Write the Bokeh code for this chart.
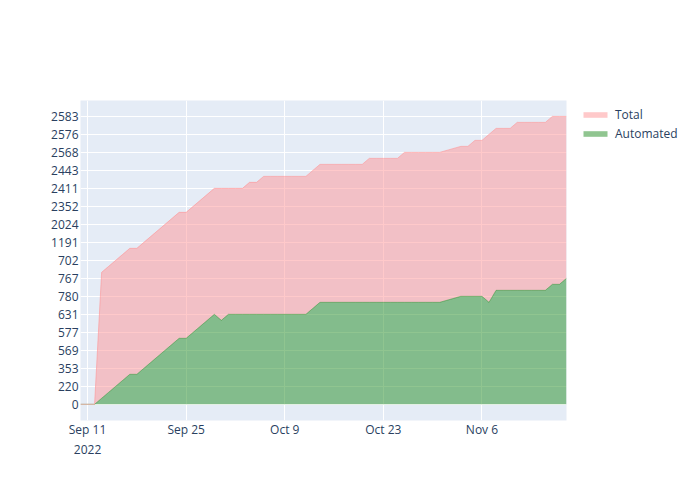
import pandas as pd
from bokeh.plotting import figure
from bokeh.models import ColumnDataSource, Range1d, FixedTicker, Legend, LegendItem
from bokeh.embed import file_html
from bokeh.resources import INLINE

# ---------------- data ----------------
start_date = "2022-09-10"
end_date = "2022-11-18"
missing_dates = ["2022-11-01", "2022-11-02"]

# Sep 10 .. Sep 30, Oct 1 .. Oct 31, Nov 3 .. Nov 18
automated = [
    0, 0, 0, 75, 148, 220, 265, 309, 309, 353, 425, 497, 569, 572, 575, 575,
    577, 595, 613, 631, 613,
    631, 631, 631, 631, 631, 631, 631, 631, 631, 631, 631, 631, 681,
    730, 730, 730, 730, 730, 730, 730, 730, 730, 730, 730, 730, 730, 730,
    730, 730, 730, 730,
    780, 780, 780, 780, 730, 756, 756, 756, 756, 756, 756, 756, 756,
    761, 761, 767,
]
total = [
    0, 0, 0, 640, 671, 702, 865, 1028, 1028, 1191, 1469, 1746, 2024, 2133,
    2243, 2243, 2352, 2372, 2391, 2411, 2411,
    2411, 2411, 2411, 2422, 2422, 2432, 2432, 2432, 2432, 2432, 2432, 2432,
    2443, 2485, 2485, 2485, 2485, 2485, 2485, 2485, 2526, 2526, 2526, 2526,
    2526, 2568, 2568, 2568, 2568, 2568, 2568,
    2571, 2571, 2573, 2573, 2576, 2578, 2578, 2578, 2580, 2580, 2580, 2580,
    2580, 2583, 2583, 2583,
]

series_names = ["Total", "Automated"]
x_tick_dates = ["2022-09-11", "2022-09-25", "2022-10-09", "2022-10-23", "2022-11-06"]
x_tick_labels = ["Sep 11\n2022", "Sep 25", "Oct 9", "Oct 23", "Nov 6"]

# ---------------- preparation ----------------
dates = [d for d in pd.date_range(start_date, end_date)
         if d.strftime("%Y-%m-%d") not in missing_dates]

# y values are categories (strings), ordered by first appearance
categories = []
for v in automated + total:
    s = str(v)
    if s not in categories:
        categories.append(s)
auto_idx = [categories.index(str(v)) for v in automated]
total_idx = [categories.index(str(v)) for v in total]

def ms(d):
    return int(pd.Timestamp(d).value // 10**6)

src = ColumnDataSource(dict(x=dates, auto=auto_idx, total=total_idx,
                            zero=[0] * len(dates)))

FONT = "Open Sans"
TXT = "#2a3f5f"
PINK = (255, 148, 150)
GREEN = "forestgreen"

p = figure(frame_width=486, frame_height=320, x_axis_type="datetime",
           output_backend="svg", toolbar_location=None,
           x_range=Range1d(ms(start_date), ms(end_date)),
           y_range=Range1d(-2.7, len(categories) - 1 + 2.65),
           min_border_left=80, min_border_right=118,
           min_border_top=100, min_border_bottom=64)
p.background_fill_color = "#e5ecf6"
p.border_fill_color = "white"
p.outline_line_color = None

g_area = p.varea(x="x", y1="zero", y2="auto", source=src,
                 fill_color=GREEN, fill_alpha=0.5)
t_area = p.varea(x="x", y1="auto", y2="total", source=src,
                 fill_color=PINK, fill_alpha=0.5)
p.line(x="x", y="auto", source=src, line_color=GREEN, line_alpha=0.45, line_width=1)
p.line(x="x", y="total", source=src, line_color=PINK, line_alpha=0.6, line_width=1)

# axes
y_ticks = list(range(0, len(categories), 3))
p.yaxis.ticker = FixedTicker(ticks=y_ticks)
p.yaxis.major_label_overrides = {i: categories[i] for i in y_ticks}
x_ticks = [ms(d) for d in x_tick_dates]
p.xaxis.ticker = FixedTicker(ticks=x_ticks)
p.xaxis.major_label_overrides = {t: l for t, l in zip(x_ticks, x_tick_labels)}

for ax in (p.xaxis[0], p.yaxis[0]):
    ax.axis_line_color = None
    ax.major_tick_line_color = None
    ax.minor_tick_line_color = None
    ax.major_tick_out = 0
    ax.major_tick_in = 0
    ax.minor_tick_out = 0
    ax.major_label_text_font = FONT
    ax.major_label_text_font_size = "12px"
    ax.major_label_text_color = TXT
p.yaxis.major_label_standoff = 2
p.xaxis.major_label_standoff = 0

p.xgrid.grid_line_color = "white"
p.ygrid.grid_line_color = "white"
p.xgrid.grid_line_width = 1
p.ygrid.grid_line_width = 1

legend = Legend(items=[LegendItem(label=series_names[0], renderers=[t_area]),
                       LegendItem(label=series_names[1], renderers=[g_area])],
                location=(14, 277), orientation="vertical",
                glyph_width=30, glyph_height=7, label_height=19,
                spacing=0, padding=0, margin=0, label_standoff=5,
                background_fill_alpha=0, border_line_color=None,
                label_text_font=FONT, label_text_font_size="12px",
                label_text_color=TXT)
p.add_layout(legend, "right")

open("out.html", "w").write(file_html(p, INLINE))
